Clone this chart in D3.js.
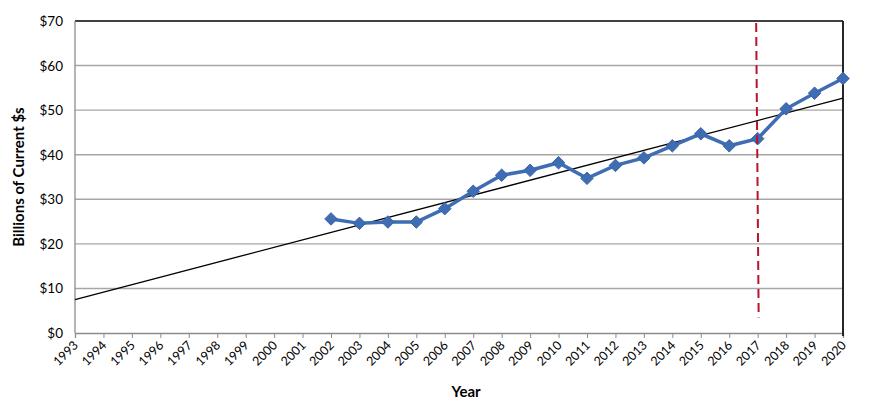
<!DOCTYPE html>
<html>
<head>
<meta charset="utf-8">
<script src="https://cdn.jsdelivr.net/npm/d3@7"></script>
<style>
  body { margin: 0; background: #fff; }
  svg text { font-family: "Lato", "DejaVu Sans", sans-serif; }
</style>
</head>
<body>
<div id="chart"></div>
<script>
// axis years and the values
var years = d3.range(1993, 2021);
var dataYears = [2002, 2003, 2004, 2005, 2006, 2007, 2008, 2009, 2010, 2011,
                 2012, 2013, 2014, 2015, 2016, 2017, 2018, 2019, 2020];
var dataValues = [25.6, 24.6, 24.9, 24.9, 27.9, 31.8, 35.4, 36.5, 38.2, 34.7,
                  37.6, 39.3, 42.0, 44.7, 42.0, 43.6, 50.3, 53.8, 57.1];
var yTicks = [0, 10, 20, 30, 40, 50, 60, 70];
var markerYear = 2017;

function init(){

    var w = 870;
    var h = 410;
    var left = 75, right = 843, top = 21, bottom = 333;

    var svg = d3.select("#chart")
                .append("svg")
                .attr("width", w)
                .attr("height", h);

    var x = d3.scaleLinear().domain([1993, 2020]).range([left, right]);
    var y = d3.scaleLinear().domain([0, 70]).range([bottom, top]);

    // gridlines
    svg.selectAll("line.grid")
        .data(yTicks.slice(1, -1))
        .enter()
        .append("line")
        .attr("class", "grid")
        .attr("x1", left)
        .attr("x2", right)
        .attr("y1", function(d) { return y(d); })
        .attr("y2", function(d) { return y(d); })
        .attr("stroke", "#a6a6a6")
        .attr("stroke-width", 1.4);

    // plot frame: top and right dark, left grey
    svg.append("line").attr("x1", left).attr("x2", right).attr("y1", top).attr("y2", top)
        .attr("stroke", "#000").attr("stroke-width", 1.3);
    svg.append("line").attr("x1", left).attr("x2", left).attr("y1", top).attr("y2", bottom)
        .attr("stroke", "#8c8c8c").attr("stroke-width", 1.3);

    // y axis labels
    svg.selectAll("text.ylab")
        .data(yTicks)
        .enter()
        .append("text")
        .attr("class", "ylab")
        .text(function(d) { return "$" + d; })
        .attr("x", 63)
        .attr("y", function(d) { return y(d) + 5; })
        .attr("text-anchor", "end")
        .attr("font-size", "13.5px")
        .attr("fill", "#000");

    // x axis
    var xAxis = d3.axisBottom(x)
        .tickValues(years)
        .tickSize(5)
        .tickFormat("");
    var gx = svg.append("g")
        .attr("transform", "translate(0," + bottom + ")")
        .call(xAxis);
    gx.select(".domain").attr("stroke", "#8c8c8c").attr("stroke-width", 1.3);
    gx.selectAll(".tick line").attr("stroke", "#8c8c8c");

    svg.append("line").attr("x1", right).attr("x2", right).attr("y1", top).attr("y2", bottom + 3)
        .attr("stroke", "#262626").attr("stroke-width", 2);

    svg.selectAll("text.xlab")
        .data(years)
        .enter()
        .append("text")
        .attr("class", "xlab")
        .text(function(d) { return d; })
        .attr("transform", function(d) {
            return "translate(" + (x(d) + 4) + "," + (bottom + 13) + ") rotate(-45)";
        })
        .attr("text-anchor", "end")
        .attr("font-size", "12.5px")
        .attr("fill", "#000");

    // axis titles
    svg.append("text")
        .text("Billions of Current $s")
        .attr("transform", "translate(24," + ((top + bottom) / 2) + ") rotate(-90)")
        .attr("text-anchor", "middle")
        .attr("font-size", "15px")
        .attr("font-weight", "bold");

    svg.append("text")
        .text("Year")
        .attr("x", 466)
        .attr("y", 397)
        .attr("text-anchor", "middle")
        .attr("font-size", "15px")
        .attr("font-weight", "bold");

    // linear trend from the series
    var pts = dataYears.map(function(d, i) { return [d, dataValues[i]]; });
    var mx = d3.mean(dataYears), my = d3.mean(dataValues);
    var sxy = d3.sum(pts, function(p) { return (p[0] - mx) * (p[1] - my); });
    var sxx = d3.sum(pts, function(p) { return (p[0] - mx) * (p[0] - mx); });
    var slope = sxy / sxx;
    var trend = [1993, 2020].map(function(t) { return [t, my + slope * (t - mx)]; });

    svg.append("path")
        .datum(trend)
        .attr("d", d3.line()
            .x(function(d) { return x(d[0]); })
            .y(function(d) { return y(d[1]); }))
        .attr("fill", "none")
        .attr("stroke", "#000")
        .attr("stroke-width", 1.3);

    // data line
    svg.append("path")
        .datum(pts)
        .attr("d", d3.line()
            .x(function(d) { return x(d[0]); })
            .y(function(d) { return y(d[1]); }))
        .attr("fill", "none")
        .attr("stroke", "#3f6db3")
        .attr("stroke-width", 3.5);

    svg.selectAll("path.marker")
        .data(pts)
        .enter()
        .append("path")
        .attr("class", "marker")
        .attr("d", d3.symbol().type(d3.symbolDiamond2).size(100))
        .attr("transform", function(d) { return "translate(" + x(d[0]) + "," + y(d[1]) + ")"; })
        .attr("fill", "#3f6db3")
        .attr("stroke", "#3a64a6")
        .attr("stroke-width", 1);

    // dashed marker at 2017
    svg.append("line")
        .attr("x1", x(markerYear) - 1.5)
        .attr("x2", x(markerYear) + 1)
        .attr("y1", y(70) + 2)
        .attr("y2", y(3.5))
        .attr("stroke", "#b8142c")
        .attr("stroke-width", 2)
        .attr("stroke-dasharray", "9,5");
}

window.onload = init;
</script>
</body>
</html>
